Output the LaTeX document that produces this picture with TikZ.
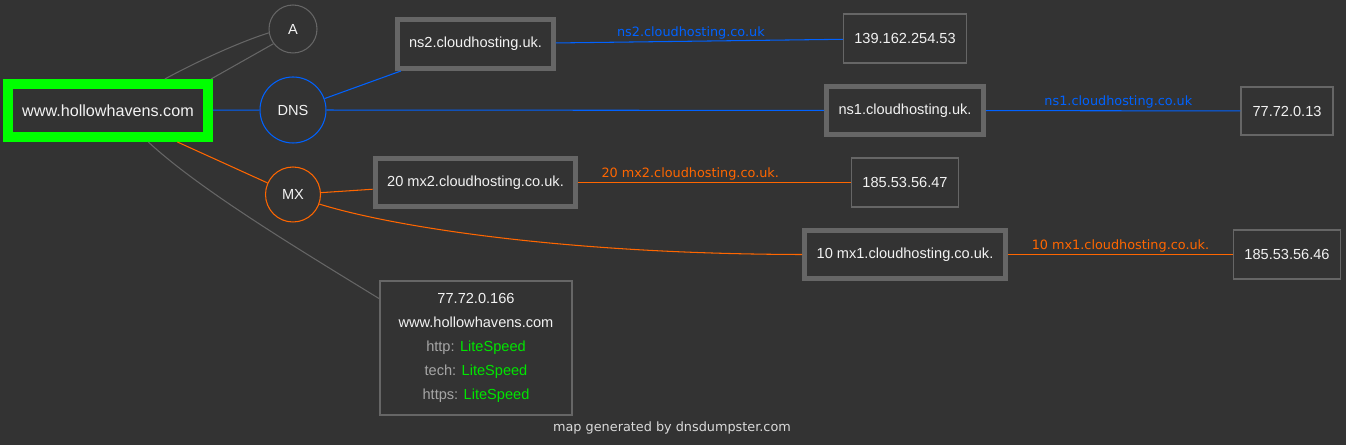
\documentclass[tikz,border=0pt]{standalone}
\usepackage{fontspec}
\setmainfont{Liberation Sans}
\newfontfamily\edgefont{DejaVu Sans}
\usepackage{tikz}
\usetikzlibrary{positioning, shapes, arrows, calc}
\definecolor{dnsBack}{HTML}{333333}
\definecolor{dnsGrey}{HTML}{666666}
\definecolor{dnsText}{HTML}{F2F2F2}
\definecolor{dnsMuted}{HTML}{A6A6A6}
\definecolor{dnsGreen}{HTML}{00FF00}
\definecolor{dnsLite}{HTML}{00E600}
\definecolor{dnsBlue}{HTML}{0062FF}
\definecolor{dnsOrange}{HTML}{FF6600}
\tikzset{
    dnsBoxBase/.style={
        rectangle,
        draw=dnsGrey,
        inner sep=0pt,
        line width=0.6pt,
        text=dnsText,
        align=center,
        font=\fontsize{8.3}{10}\selectfont
    },
    % Node variants
    dnsRoot/.style={dnsBoxBase, draw=dnsGreen, line width=5.7pt, font=\fontsize{9.2}{11}\selectfont},
    dnsHost/.style={dnsBoxBase, line width=2.85pt},
    dnsAddr/.style={dnsBoxBase},
    dnsType/.style={circle, draw, inner sep=0pt, line width=0.6pt, text=dnsText,
        font=\fontsize{8.3}{10}\selectfont},
    % Edges
    nsEdge/.style={draw=dnsBlue, line width=0.6pt},
    mxEdge/.style={draw=dnsOrange, line width=0.6pt},
    aEdge/.style={draw=dnsGrey, line width=0.6pt},
    dnsLabel/.style={
        font=\edgefont\fontsize{7.3}{8}\selectfont,
        above,
        inner sep=1pt
    }
}

\begin{document}
\begin{tikzpicture}[x=0.02cm, y=-0.02cm]
    % Canvas
    \fill[dnsBack] (0,0) rectangle (1346,445);
    \useasboundingbox (0,0) rectangle (1346,445);

    % Domain and record types
    \node[dnsRoot, minimum width=4cm, minimum height=1.06cm] (root) at (108,110.5) {www.hollowhavens.com};
    \node[dnsType, draw=dnsGrey, minimum size=0.96cm] (a) at (293,29) {A};
    \node[dnsType, draw=dnsBlue, minimum size=1.32cm] (dns) at (293,110) {DNS};
    \node[dnsType, draw=dnsOrange, minimum size=1.1cm] (mx) at (293,194.5) {MX};

    % Name servers and mail servers
    \node[dnsHost, minimum width=3.12cm, minimum height=0.98cm] (ns2) at (475.5,44) {ns2.cloudhosting.uk.};
    \node[dnsHost, minimum width=3.14cm, minimum height=0.96cm] (ns1) at (905,110.5) {ns1.cloudhosting.uk.};
    \node[dnsHost, minimum width=4.02cm, minimum height=0.96cm] (mx2) at (475.5,182.5) {20 mx2.cloudhosting.co.uk.};
    \node[dnsHost, minimum width=4.02cm, minimum height=0.96cm] (mx1) at (905,254.5) {10 mx1.cloudhosting.co.uk.};

    % Addresses
    \node[dnsAddr, minimum width=2.46cm, minimum height=0.98cm] (ipNs2) at (905,38.5) {139.162.254.53};
    \node[dnsAddr, minimum width=1.84cm, minimum height=0.96cm] (ipNs1) at (1287,111) {77.72.0.13};
    \node[dnsAddr, minimum width=2.14cm, minimum height=0.98cm] (ipMx2) at (905,182.5) {185.53.56.47};
    \node[dnsAddr, minimum width=2.14cm, minimum height=0.98cm] (ipMx1) at (1287,254.5) {185.53.56.46};
    \node[dnsAddr, minimum width=3.84cm, minimum height=2.68cm,
          font=\fontsize{8.3}{13.7}\selectfont] (host) at (476,348)
        {77.72.0.166\\www.hollowhavens.com\\
         \textcolor{dnsMuted}{http:} \textcolor{dnsLite}{LiteSpeed}\\
         \textcolor{dnsMuted}{tech:} \textcolor{dnsLite}{LiteSpeed}\\
         \textcolor{dnsMuted}{https:} \textcolor{dnsLite}{LiteSpeed}};

    % Connections
    \draw[aEdge] (root.29) .. controls (200,60) and (240,42) .. (a.189);
    \draw[aEdge] (root.17) -- (a.217);
    \draw[nsEdge] (root) -- (dns);
    \draw[nsEdge] (dns) -- (ns2);
    \draw[nsEdge] (dns) -- (ns1);
    \draw[mxEdge] (root) -- (mx);
    \draw[mxEdge] (mx.-20) .. controls (390,226) and (560,254) .. (mx1.west);
    \draw[mxEdge] (mx) -- (mx2);
    \draw[aEdge] (root.-38) .. controls (200,190) and (300,250) .. (host.153);

    \draw[nsEdge] (ns2) -- node[dnsLabel, pos=0.47, text=dnsBlue] {ns2.cloudhosting.co.uk} (ipNs2);
    \draw[nsEdge] (ns1) -- node[dnsLabel, pos=0.52, text=dnsBlue] {ns1.cloudhosting.co.uk} (ipNs1);
    \draw[mxEdge] (mx2) -- node[dnsLabel, pos=0.41, text=dnsOrange] {20 mx2.cloudhosting.co.uk.} (ipMx2);
    \draw[mxEdge] (mx1) -- node[dnsLabel, pos=0.5, text=dnsOrange] {10 mx1.cloudhosting.co.uk.} (ipMx1);

    % Footer
    \node[font=\edgefont\fontsize{7.3}{8}\selectfont, text=dnsText!90!black] (credit) at (672,427.5) {map generated by dnsdumpster.com};
\end{tikzpicture}
\end{document}
